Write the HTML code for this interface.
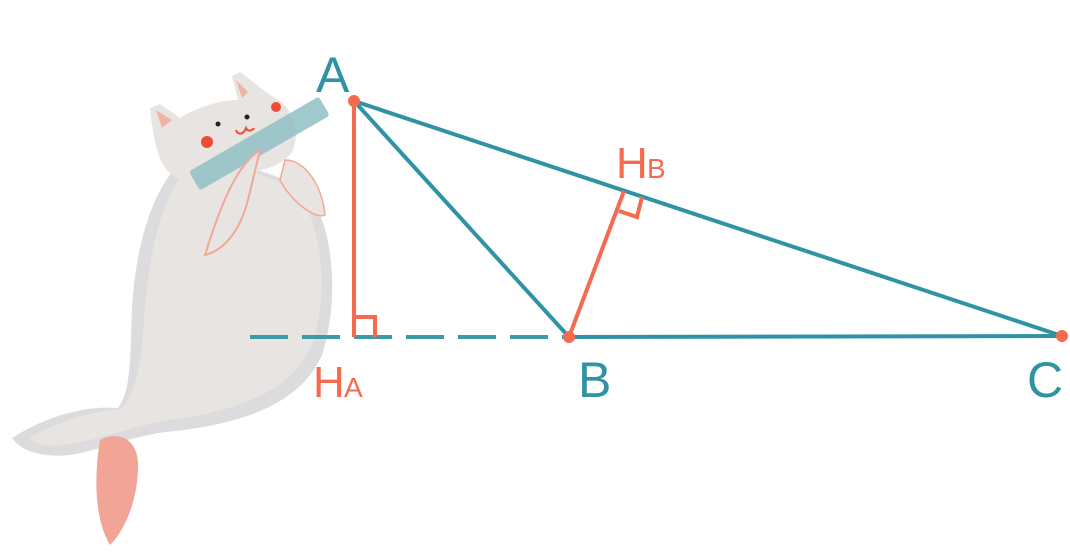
<!DOCTYPE html>
<html><head><meta charset="utf-8"><style>
html,body{margin:0;padding:0;background:#fff;}
svg{display:block}
text{font-family:"Liberation Sans",sans-serif;}
</style></head><body>
<svg width="1070" height="553" viewBox="0 0 1070 553" xmlns="http://www.w3.org/2000/svg">
<g>
<path d="M12,438 C40,420 80,405 118,408 C132,390 130,350 132,310 C135,250 150,200 172,172 L230,160 L300,185 C335,215 340,300 322,355 C300,405 240,425 165,432 C125,438 100,450 70,455 C40,458 20,450 12,438 Z" fill="#dcdbdd"/>
<path d="M30,438 C55,422 90,412 122,408 C140,388 142,350 145,305 C150,250 162,200 182,175 L235,165 L295,188 C325,225 328,300 312,345 C292,392 235,412 168,420 C128,428 98,440 65,445 C45,447 35,445 30,438 Z" fill="#e8e4e1"/>
<path d="M150,108 L160,104 L180,118 C200,105 225,100 238,100 L232,76 L240,72 L270,95 C292,105 302,130 292,152 C280,172 230,178 190,180 C165,180 155,160 150,108 Z" fill="#e8e4e1"/>
<path d="M156,110 L172,120 L162,128 Z M236,80 L248,92 L242,98 Z" fill="#f1b4a3"/>
<path d="M100,440 C120,430 138,440 138,465 C138,500 125,530 110,545 C98,525 92,490 100,440 Z" fill="#f2a596"/>
<rect x="185" y="135" width="150" height="22" rx="3" transform="rotate(-30 255 146)" fill="#8fc0c6" opacity="0.85"/>
<path d="M260,150 C245,160 228,180 205,255 C225,250 240,230 248,200 Z" fill="#e8e4e1" stroke="#f1a896" stroke-width="2"/>
<path d="M285,160 C305,160 322,185 325,215 C315,220 290,200 280,180 Z" fill="#e8e4e1" stroke="#f1a896" stroke-width="1.5"/>
<circle cx="207" cy="142" r="6" fill="#f04a38"/>
<circle cx="276" cy="107" r="5" fill="#f04a38"/>
<circle cx="218" cy="124" r="2.5" fill="#222"/><circle cx="247" cy="117" r="2.5" fill="#222"/>
<path d="M236,130 C238,136 244,134 246,128 C248,132 252,131 254,128" fill="none" stroke="#f04a38" stroke-width="2"/>
</g>
<line x1="250" y1="337" x2="569" y2="337" stroke="#3c9aa9" stroke-width="4" stroke-dasharray="38,14"/>
<g stroke="#2f93a3" stroke-width="4" fill="none" stroke-linecap="round">
<line x1="354" y1="101" x2="569" y2="337"/>
<line x1="354" y1="101" x2="1062" y2="336"/>
<line x1="569" y1="337" x2="1062" y2="336"/>
</g>
<g stroke="#f56b4f" stroke-width="4" fill="none">
<line x1="354" y1="101" x2="354" y2="337"/>
<polyline points="354,317 375,317 375,337"/>
<line x1="569" y1="337" x2="624" y2="191"/>
<polyline points="619,211 637,217 642,197"/>
</g>
<g fill="#f56b4f"><circle cx="354" cy="101" r="6"/><circle cx="569" cy="337" r="6"/><circle cx="1062" cy="336" r="6"/></g>
<g fill="#2f93a3" font-size="50">
<text x="316" y="92">A</text>
<text x="578" y="397">B</text>
<text x="1027" y="397">C</text>
</g>
<g fill="#f56b4f">
<text x="313" y="397" font-size="44">H</text><text x="344" y="397" font-size="28">A</text>
<text x="616" y="178" font-size="44">H</text><text x="647" y="178" font-size="28">B</text>
</g>
</svg>
</body></html>
